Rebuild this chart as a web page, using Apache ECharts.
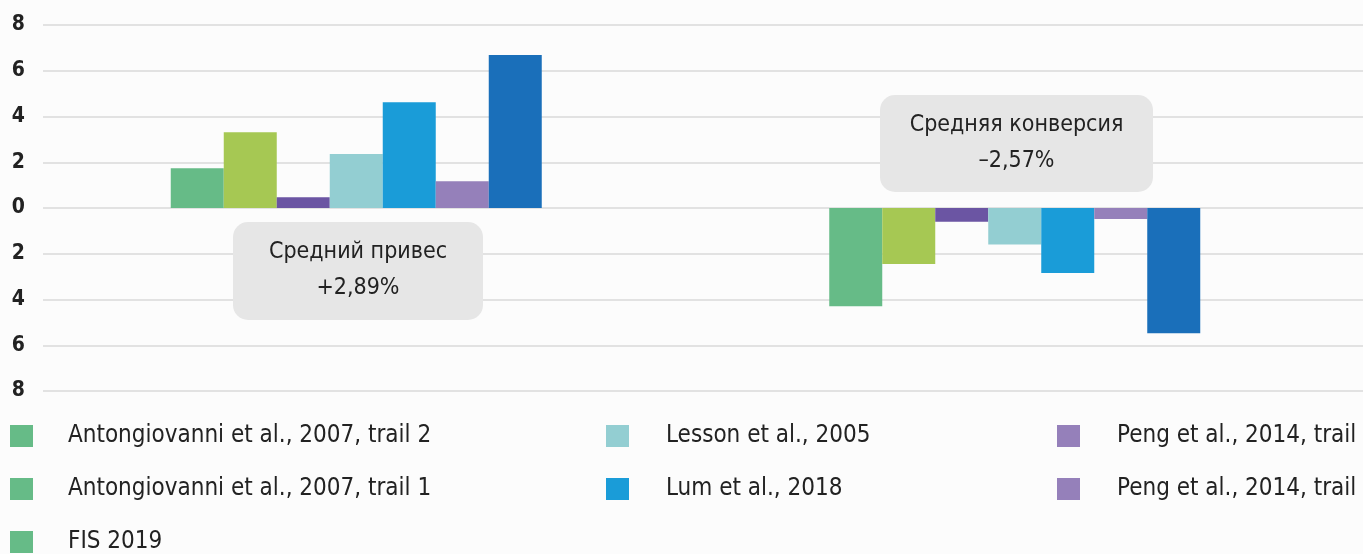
<!DOCTYPE html>
<html>
<head>
<meta charset="utf-8">
<script src="https://cdn.jsdelivr.net/npm/echarts@6/dist/echarts.min.js"></script>
<style>
html,body{margin:0;padding:0;background:#fcfcfc;}
#chart{width:1363px;height:554px;}
</style>
</head>
<body>
<div id="chart"></div>
<script>
var categories = ['Привес', 'Конверсия'];
var seriesNames = [
  'Antongiovanni et al., 2007, trail 2',
  'Antongiovanni et al., 2007, trail 1',
  'FIS 2019',
  'Lesson et al., 2005',
  'Lum et al., 2018',
  'Peng et al., 2014, trail 1',
  'Peng et al., 2014, trail 2'
];
var seriesValues = [
  [1.74, -4.30],
  [3.31, -2.45],
  [0.47, -0.60],
  [2.36, -1.60],
  [4.62, -2.84],
  [1.17, -0.48],
  [6.69, -5.48]
];
var barColors = ['#66bb87', '#a6c853', '#6b55a3', '#93ced2', '#1a9cd8', '#9580ba', '#1a6fba'];
var legendColors = ['#66bb87', '#66bb87', '#66bb87', '#93ced2', '#1a9cd8', '#9580ba', '#9580ba'];
var yTicks = [-8, -6, -4, -2, 0, 2, 4, 6, 8];
var noteTitles = ['Средний привес', 'Средняя конверсия'];
var noteValues = ['+2,89%', '\u20132,57%'];

var FONT = "'Liberation Sans Narrow', 'DejaVu Sans Condensed', 'Noto Sans', sans-serif";

var chart = echarts.init(document.getElementById('chart'), null, {renderer: 'canvas'});

var series = seriesNames.map(function (name, i) {
  return {
    name: name,
    type: 'bar',
    xAxisIndex: 1,
    yAxisIndex: 1,
    barWidth: 53,
    barGap: '0%',
    itemStyle: {color: barColors[i]},
    data: seriesValues[i]
  };
});

function legendFor(idxs, left, gapText) {
  return {
    orient: 'vertical',
    left: left,
    top: 424,
    width: 400,
    height: 200,
    padding: 0,
    itemWidth: 23,
    itemHeight: 22,
    itemGap: 29,
    icon: 'rect',
    selectedMode: false,
    textStyle: {
      fontFamily: FONT,
      fontSize: 24,
      color: '#222',
      overflow: 'none',
      padding: [0, 0, 0, gapText]
    },
    data: idxs.map(function (i) {
      return {name: seriesNames[i], itemStyle: {color: legendColors[i]}};
    })
  };
}

var notes = [
  {x: 233, y: 222, w: 250, h: 98},
  {x: 880, y: 95, w: 273, h: 97}
];
var graphics = [];
notes.forEach(function (n, i) {
  graphics.push({
    type: 'rect',
    shape: {x: n.x, y: n.y, width: n.w, height: n.h, r: 15},
    style: {fill: '#e6e6e6'},
    z: 10
  });
  graphics.push({
    type: 'text',
    x: n.x + n.w / 2,
    y: n.y + 30,
    style: {text: noteTitles[i], fill: '#222', font: '23px ' + FONT, textAlign: 'center', textVerticalAlign: 'middle'},
    z: 11
  });
  graphics.push({
    type: 'text',
    x: n.x + n.w / 2,
    y: n.y + 66,
    style: {text: noteValues[i], fill: '#222', font: '23px ' + FONT, textAlign: 'center', textVerticalAlign: 'middle'},
    z: 11
  });
});

chart.setOption({
  backgroundColor: '#fcfcfc',
  animation: false,
  grid: [
    {left: 43, right: 0, top: 25, bottom: 163},
    {left: 27, width: 1317, top: 25, bottom: 163}
  ],
  xAxis: [
    {type: 'category', gridIndex: 0, data: categories, show: false},
    {type: 'category', gridIndex: 1, data: categories, show: false}
  ],
  yAxis: [
    {
      type: 'value', gridIndex: 0, min: yTicks[0], max: yTicks[yTicks.length - 1], interval: 2,
      axisLine: {show: false}, axisTick: {show: false},
      axisLabel: {
        margin: 18, color: '#222', fontFamily: FONT, fontSize: 21, fontWeight: 'bold',
        formatter: function (v) { return String(Math.abs(v)); }
      },
      splitLine: {lineStyle: {color: '#e2e2e2', width: 2}}
    },
    {
      type: 'value', gridIndex: 1, min: yTicks[0], max: yTicks[yTicks.length - 1], interval: 2,
      show: false, splitLine: {show: false}
    }
  ],
  legend: [
    legendFor([0, 1, 2], 10, 30),
    legendFor([3, 4], 606, 32),
    legendFor([5, 6], 1057, 32)
  ],
  graphic: graphics,
  series: series
});
</script>
</body>
</html>
